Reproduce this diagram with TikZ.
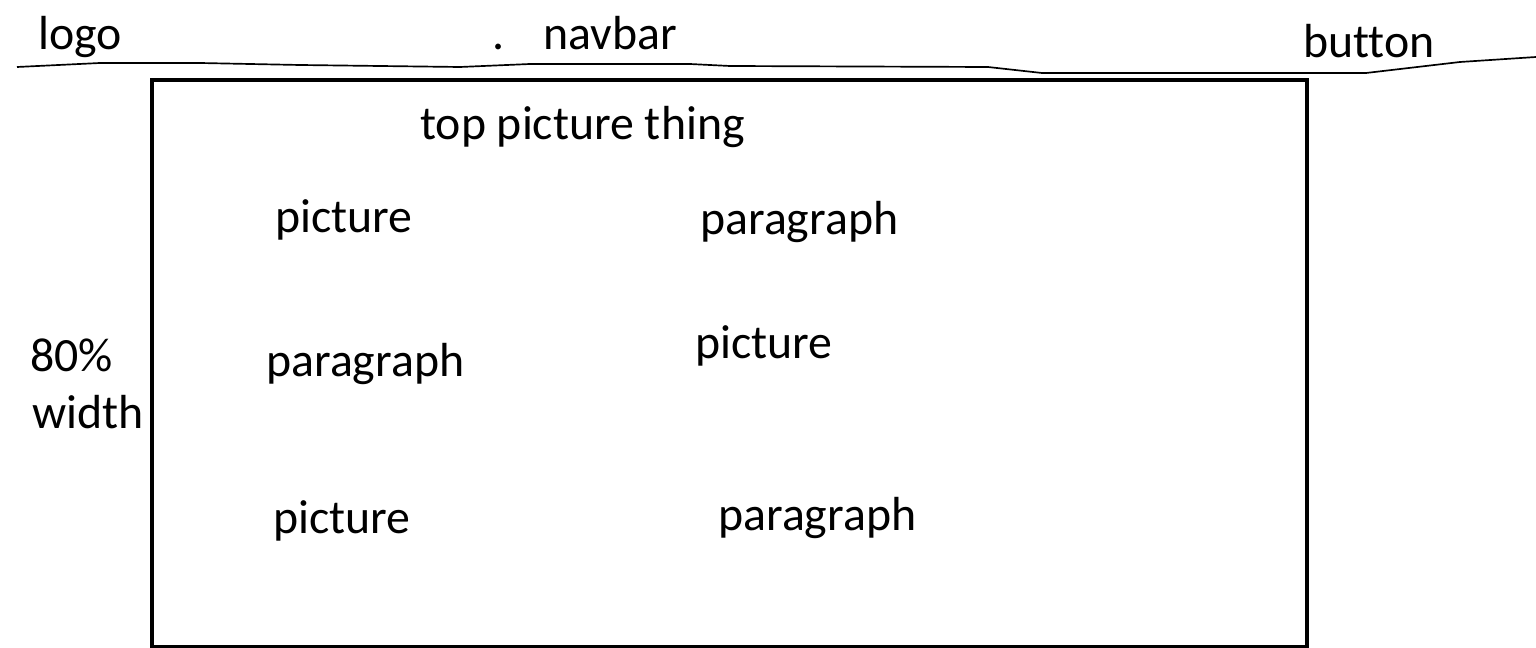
\documentclass[tikz,border=0pt]{standalone}
\usepackage{fontspec}
\setmainfont[Ligatures=NoCommon]{Carlito}
\usetikzlibrary{positioning}
\tikzset{
	lbl/.style={anchor=base west, inner sep=0pt, font=\fontsize{34}{40}\selectfont},
	frame/.style={draw=black, line width=3pt},
	rule/.style={draw=black, line width=1.2pt, line join=round},
}
\begin{document}
\begin{tikzpicture}[x=0.025cm, y=-0.025cm]
		\useasboundingbox (0,0) rectangle (1536,648);
		% header
		\node[lbl] (logo) at (38,50) {logo};
		\node[lbl] (dot) at (492,50) {.};
		\node[lbl] (navbar) at (543,50) {navbar};
		\node[lbl] (button) at (1303,58) {button};
		\draw[rule] (17,67) -- (100,63) -- (200,63) -- (300,65) -- (460,67) -- (530,64) -- (690,64) -- (730,66) -- (988,67) -- (1042,73) -- (1366,73) -- (1460,62) -- (1536,57);
		% page body
		\node[frame, rectangle, minimum width=1155*0.025cm, minimum height=567*0.025cm, anchor=north west, inner sep=0pt] (page) at (150,78) {};
		\node[lbl] (top) at (420,140) {top picture thing};
		\node[lbl] (pic1) at (275,233) {picture};
		\node[lbl] (par1) at (700,235) {paragraph};
		\node[lbl] (par2) at (266,376) {paragraph};
		\node[lbl] (pic2) at (695,358) {picture};
		\node[lbl] (pic3) at (273,533) {picture};
		\node[lbl] (par3) at (718,530) {paragraph};
		% side note
		\node[lbl] (pct) at (30,371) {80\%};
		\node[lbl] (wdt) at (32,428) {width};
	\end{tikzpicture}
\end{document}
